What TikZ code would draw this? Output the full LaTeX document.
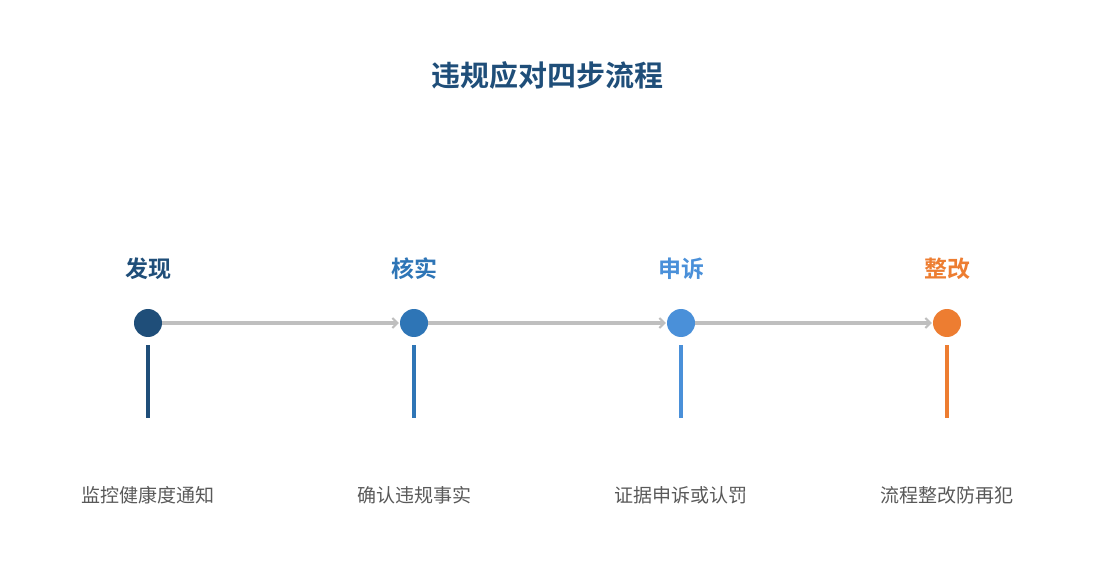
\documentclass[tikz,border=0pt]{standalone}
\usepackage{fontspec}
\setmainfont{Noto Sans CJK SC}
\newfontfamily\cjkb{Noto Sans CJK SC Bold}
\usetikzlibrary{arrows.meta}
\definecolor{cA}{HTML}{1F4E79}
\definecolor{cB}{HTML}{2E75B6}
\definecolor{cC}{HTML}{4A90D9}
\definecolor{cD}{HTML}{ED7D31}
\definecolor{lineg}{HTML}{BFBFBF}
\definecolor{txtg}{HTML}{595959}
\tikzset{
  dot/.style={circle, minimum size=28pt, inner sep=0pt, fill=#1},
  steplabel/.style={font=\cjkb\fontsize{23}{26}\selectfont, text=#1, inner sep=0pt},
  desc/.style={font=\fontsize{19}{22}\selectfont, text=txtg, inner sep=0pt},
  link/.style={draw=lineg, line width=3.5pt, -{Straight Barb[length=5pt,width=10pt,line width=2pt]}, shorten >=1pt},
  stem/.style={line width=3.5pt, draw=#1},
}
\begin{document}
\begin{tikzpicture}[x=1pt,y=-1pt]
\useasboundingbox (0,0) rectangle (1095,585);
\node[font=\cjkb\fontsize{29}{32}\selectfont, text=cA, inner sep=0pt] (title) at (547,75) {违规应对四步流程};
\foreach \n/\x/\c/\l/\d in {a/148/cA/发现/监控健康度通知, b/414/cB/核实/确认违规事实, c/681/cC/申诉/证据申诉或认罚, d/947/cD/整改/流程整改防再犯}{
  \node[dot=\c] (\n) at (\x,323) {};
  \node[steplabel=\c] (\n l) at (\x,269) {\l};
  \node[desc] (\n d) at (\x,495) {\d};
  \coordinate (\n s) at (\x,345);
  \coordinate (\n e) at (\x,418);
  \draw[stem=\c] (\n s) -- (\n e);
}
\draw[link] (a) -- (b);
\draw[link] (b) -- (c);
\draw[link] (c) -- (d);
\end{tikzpicture}
\end{document}
